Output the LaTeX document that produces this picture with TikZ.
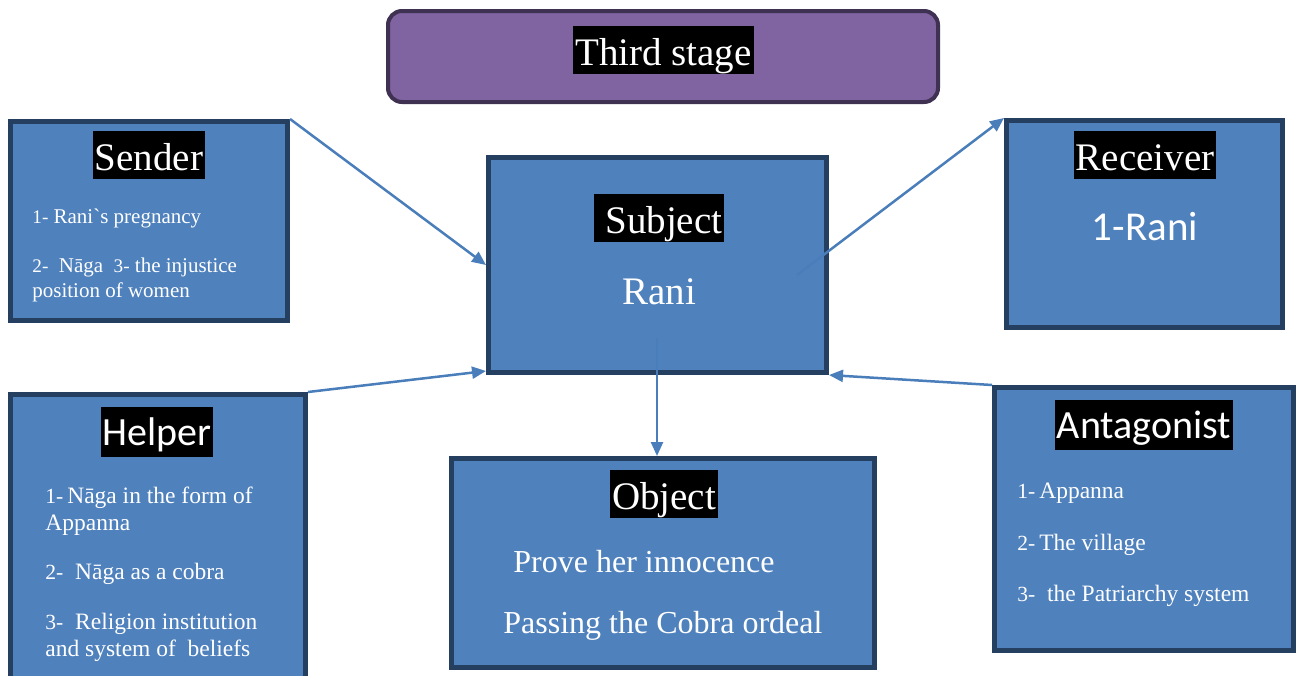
\documentclass[tikz,border=0pt]{standalone}
\usepackage{fontspec}
\setmainfont{Liberation Serif}
\newfontfamily\calib{Carlito}
\usetikzlibrary{arrows.meta}
\definecolor{boxfill}{HTML}{4F81BD}
\definecolor{boxline}{HTML}{243F60}
\definecolor{purfill}{HTML}{8064A2}
\definecolor{purline}{HTML}{3F3151}
\definecolor{arrowc}{HTML}{4A7EBB}
\def\nmsize{9}
\newcommand\nm[1]{{\fontsize{\nmsize}{10}\selectfont #1}}
\begin{document}
\begin{tikzpicture}[x=0.5pt,y=-0.5pt,
  box/.style={draw=boxline, fill=boxfill, line width=2.5pt, inner sep=0pt},
  titlebox/.style={draw=purline, fill=purfill, line width=2pt, rounded corners=7pt, inner sep=0pt},
  hl/.style={fill=black, text=white, inner xsep=1pt, inner ysep=0pt, anchor=base, text height=19.5pt, text depth=4.5pt},
  serifhl/.style={hl, font=\fontsize{19.5}{23}\selectfont},
  sanshl/.style={hl, font=\calib\fontsize{20}{24}\selectfont, text height=19pt, text depth=6pt},
  item/.style={text=white, inner sep=0pt, anchor=base west},
  smallitem/.style={item, font=\fontsize{10.5}{13}\selectfont\def\nmsize{9.6}},
  miditem/.style={item, font=\fontsize{11.75}{14}\selectfont\def\nmsize{10.8}},
  bigitem/.style={item, font=\fontsize{16}{19}\selectfont},
  arr/.style={draw=arrowc, line width=1.25pt, -{Triangle[length=7pt,width=6pt]}}
]
\useasboundingbox (0,0) rectangle (1299,675);

% boxes
\node[titlebox, minimum width=275pt, minimum height=45.5pt] (title) at (663,56.5) {};
\node[box, minimum width=138.5pt, minimum height=99.5pt] (sender) at (149,221) {};
\node[box, minimum width=169pt, minimum height=107.5pt] (subject) at (657.5,265) {};
\node[box, minimum width=138pt, minimum height=103.5pt] (receiver) at (1144.5,224) {};
\node[box, minimum width=147.5pt, minimum height=151.5pt] (helper) at (158,546) {};
\node[box, minimum width=211.5pt, minimum height=104.5pt] (object) at (663,563) {};
\node[box, minimum width=149.5pt, minimum height=131.5pt] (antagonist) at (1144,519) {};

% headings
\node[serifhl] (tTitle) at (663.5,65) {Third stage};
\node[serifhl] (tSender) at (149,170) {Sender};
\node[serifhl] (tSubject) at (659,233) {\ Subject};
\node[serifhl] (tReceiver) at (1145,170) {Receiver};
\node[serifhl] (tObject) at (664,509) {Object};
\node[sanshl] (tHelper) at (157,445) {Helper};
\node[sanshl] (tAnt) at (1144,438) {Antagonist};

% sender items
\node[smallitem] (s1) at (32,223) {\nm{1-} Rani\textasciigrave s pregnancy};
\node[smallitem] (s2) at (32,272) {\nm{2-}\ \ Nāga\ \ \nm{3-} the injustice};
\node[smallitem] (s3) at (32,297) {position of women};

% subject and receiver
\node[text=white, inner sep=0pt, anchor=base, font=\fontsize{19.5}{23}\selectfont] (rani) at (659,304) {Rani};
\node[text=white, inner sep=0pt, anchor=base, font=\calib\fontsize{20.5}{24}\selectfont] (rrani) at (1145,240) {1-Rani};

% helper items
\node[miditem] (h1) at (45,503) {\nm{1-}\,Nāga in the form of};
\node[miditem] (h2) at (45,530) {Appanna};
\node[miditem] (h3) at (45,579) {\nm{2-}\ \ Nāga as a cobra};
\node[miditem] (h4) at (45,629) {\nm{3-}\ \ Religion institution};
\node[miditem] (h5) at (45,656) {and system of\ \ beliefs};

% antagonist items
\node[miditem] (a1) at (1017,498) {\nm{1-}\,Appanna};
\node[miditem] (a2) at (1017,550) {\nm{2-}\,The village};
\node[miditem] (a3) at (1017,601) {\nm{3-}\ \ the Patriarchy system};

% object items
\node[bigitem] (o1) at (513,572) {Prove her innocence};
\node[bigitem] (o2) at (503,633) {Passing the Cobra ordeal};

% connectors
\coordinate (sIn) at (657,338);
\coordinate (sOut) at (797,275);
\draw[arr] (sender.north east) -- (subject.west);
\draw[arr] (helper.north east) -- ([yshift=2pt]subject.south west);
\draw[arr] (antagonist.north west) -- (subject.south east);
\draw[arr] (sIn) -- (sIn |- object.north);
\draw[arr] (sOut) -- (receiver.north west);
\end{tikzpicture}
\end{document}
